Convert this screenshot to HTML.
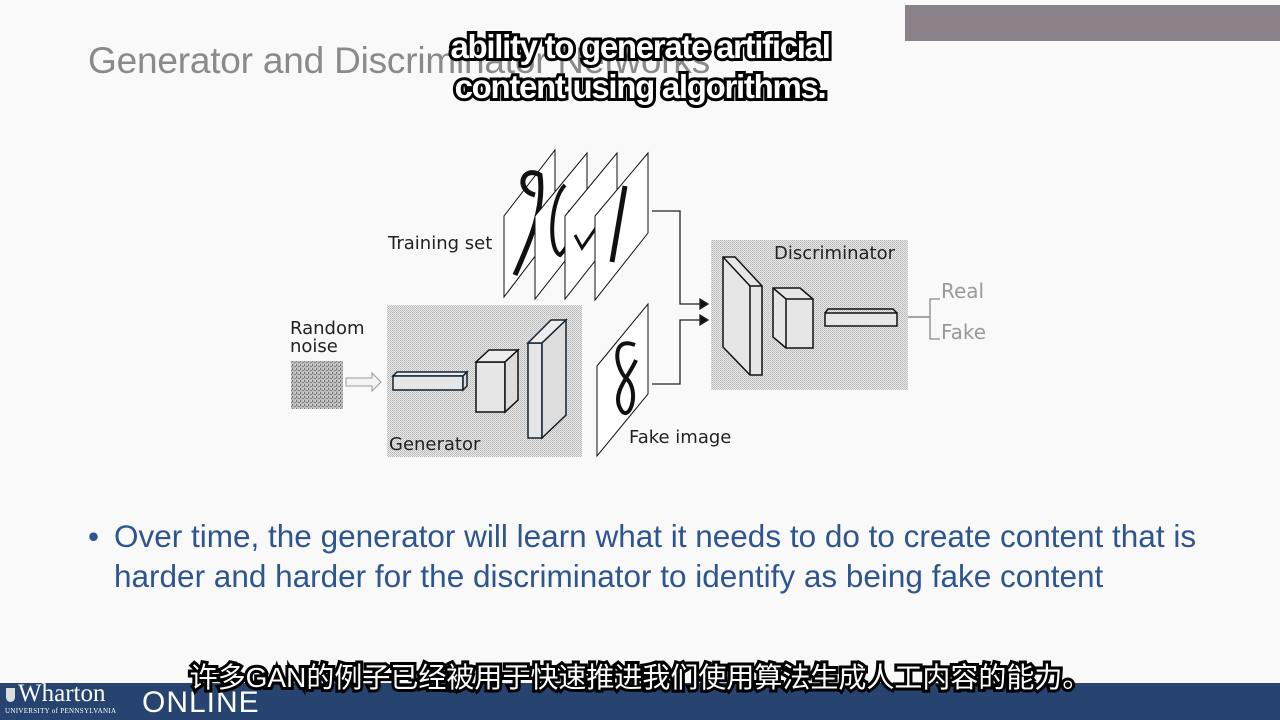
<!DOCTYPE html>
<html><head><meta charset="utf-8">
<style>
body{margin:0;width:1280px;height:720px;overflow:hidden;background:#f9f9f9;font-family:"Liberation Sans",sans-serif;position:relative}
.abs{position:absolute;margin:0}
.sub{font-family:"Liberation Sans","Noto Sans CJK SC",sans-serif;font-weight:bold;color:#fff;-webkit-text-stroke:6px #000;paint-order:stroke fill;white-space:nowrap;text-align:center}
</style></head><body>
<div class="abs" style="left:905px;top:5px;width:375px;height:36px;background:#8b8189"></div>
<div class="abs" style="left:88px;top:40px;font-size:37px;color:#8a8a8a;letter-spacing:-0.2px;white-space:nowrap">Generator and Discriminator Networks</div>

<svg class="abs" style="left:0;top:0" width="1280" height="500">
<defs>
<pattern id="dots" width="2" height="2" patternUnits="userSpaceOnUse"><rect width="2" height="2" fill="#e8e8e8"/><rect width="1" height="1" fill="#b8b8b8"/><rect x="1" y="1" width="1" height="1" fill="#c4c4c4"/></pattern>
<pattern id="noise" width="4" height="4" patternUnits="userSpaceOnUse"><rect width="4" height="4" fill="#bbb"/><rect width="1" height="2" fill="#777"/><rect x="2" y="2" width="2" height="1" fill="#888"/><rect x="3" y="0" width="1" height="1" fill="#ddd"/></pattern>
</defs>
<g>
<rect x="387" y="305" width="195" height="152" fill="url(#dots)"/>
<polygon points="393,376 463,376 467,372 397,372" fill="#eee" stroke="#123" stroke-width="1.5"/>
<rect x="393" y="376" width="70" height="14" fill="#e6e6e6" stroke="#123" stroke-width="1.5"/>
<polygon points="463,376 467,372 467,386 463,390" fill="#ddd" stroke="#123" stroke-width="1.5"/>
<rect x="476" y="362" width="29" height="50" fill="#e6e6e6" stroke="#111" stroke-width="1.5"/>
<polygon points="476,362 489,350 518,350 505,362" fill="#eee" stroke="#111" stroke-width="1.5"/>
<polygon points="505,362 518,350 518,400 505,412" fill="#ddd" stroke="#111" stroke-width="1.5"/>
<rect x="528" y="343" width="14" height="95" fill="#e6e6e6" stroke="#123" stroke-width="1.5"/>
<polygon points="528,343 551,320 566,320 542,343" fill="#eee" stroke="#123" stroke-width="1.5"/>
<polygon points="542,343 566,320 566,415 542,438" fill="#ddd" stroke="#123" stroke-width="1.5"/>
<text x="389" y="450" font-family="DejaVu Sans" font-size="18" fill="#222">Generator</text>
</g>
<g>
<rect x="711" y="240" width="197" height="150" fill="url(#dots)"/>
<polygon points="723,257 735,257 762,286 762,375 750,375 723,347" fill="#e6e6e6" stroke="#111" stroke-width="1.5"/>
<line x1="750" y1="286" x2="762" y2="286" stroke="#111" stroke-width="1.5"/><line x1="750" y1="286" x2="750" y2="375" stroke="#111" stroke-width="1.5"/><line x1="723" y1="257" x2="750" y2="286" stroke="#111" stroke-width="1.5"/>
<polygon points="773,288 800,288 813,299 813,348 786,348 773,337" fill="#e6e6e6" stroke="#111" stroke-width="1.5"/>
<polyline points="773,288 786,299 813,299" fill="none" stroke="#111" stroke-width="1.5"/><line x1="786" y1="299" x2="786" y2="348" stroke="#111" stroke-width="1.5"/>
<rect x="825" y="313" width="72" height="13" fill="#e6e6e6" stroke="#111" stroke-width="1.5"/>
<polyline points="825,313 828,309 893,309 897,313" fill="none" stroke="#111" stroke-width="1.5"/>
<text x="774" y="259" font-family="DejaVu Sans" font-size="18" fill="#222">Discriminator</text>
</g>
<g>
<text x="388" y="249" font-family="DejaVu Sans" font-size="18" fill="#222">Training set</text>
<polygon points="504,216 555,150 555,230 504,297" fill="#fff" stroke="#111"/>
<path d="M535,195 C515,190 522,165 540,175 C545,210 528,245 515,275" fill="none" stroke="#111" stroke-width="5"/>
<polygon points="535,216 587,153 587,233 535,299" fill="#fff" stroke="#111"/>
<path d="M565,185 C550,200 548,250 560,255 C570,245 575,230 570,210" fill="none" stroke="#111" stroke-width="4"/>
<polygon points="565,216 617,153 617,233 565,299" fill="#fff" stroke="#111"/>
<path d="M575,235 L582,248 L598,225" fill="none" stroke="#111" stroke-width="3"/>
<polygon points="595,216 648,153 648,233 595,300" fill="#fff" stroke="#111"/>
<path d="M625,186 L612,262" fill="none" stroke="#111" stroke-width="5"/>
</g>
<g>
<polygon points="597,366 648,304 648,394 597,456" fill="#fff" stroke="#111"/>
<path d="M635,345 C610,335 615,370 628,380 C640,395 628,425 620,408 C612,392 630,375 636,360" fill="none" stroke="#111" stroke-width="4"/>
<text x="629" y="443" font-family="DejaVu Sans" font-size="18" fill="#222">Fake image</text>
</g>
<g>
<text x="290" y="334" font-family="DejaVu Sans" font-size="18" fill="#222">Random</text>
<text x="290" y="352" font-family="DejaVu Sans" font-size="18" fill="#222">noise</text>
<rect x="291" y="361" width="52" height="48" fill="url(#noise)"/>
<polygon points="346,378 372,378 372,373 381,382 372,391 372,386 346,386" fill="#f4f4f4" stroke="#999"/>
</g>
<g fill="none" stroke="#222" stroke-width="1.3">
<polyline points="652,211 680,211 680,304 700,304"/>
<polyline points="652,384 680,384 680,320 700,320"/>
<polygon points="700,299 708,304 700,309" fill="#111"/>
<polygon points="700,315 708,320 700,325" fill="#111"/>
<line x1="908" y1="317" x2="930" y2="317" stroke="#888" stroke-width="1.5"/>
<polyline points="940,299 930,299 930,339 940,339" stroke="#888"/>
</g>
<text x="941" y="298" font-family="DejaVu Sans" font-size="20" fill="#999">Real</text>
<text x="941" y="339" font-family="DejaVu Sans" font-size="20" fill="#999">Fake</text>
</svg>

<div class="abs" style="left:88px;top:516px;font-size:31.5px;color:#2d5590;line-height:40px;width:1190px;white-space:nowrap">
<span style="position:absolute;left:0">•</span>
<div style="margin-left:26px">Over time, the generator will learn what it needs to do to create content that is<br>harder and harder for the discriminator to identify as being fake content</div>
</div>

<div class="abs sub" style="left:340px;width:600px;top:27px;font-size:33px;line-height:40px;letter-spacing:-1.3px">ability to generate artificial<br>content using algorithms.</div>

<div class="abs" style="left:0;top:683px;width:1280px;height:37px;background:#26446f">
<div style="position:absolute;left:6px;top:5px;width:9px;height:14px;background:#ddd;border-radius:0 0 5px 5px"></div>
<div style="position:absolute;left:18px;top:-3px;font-family:'Liberation Serif',serif;font-size:25px;color:#fff">Wharton</div>
<div style="position:absolute;left:5px;top:24px;font-family:'Liberation Serif',serif;font-size:7px;color:#fff;letter-spacing:0.3px">UNIVERSITY of PENNSYLVANIA</div>
<div style="position:absolute;left:142px;top:3px;font-size:30px;color:#fff;letter-spacing:1px">ONLINE</div>
</div>

<div class="abs sub" style="left:140px;width:1000px;top:661px;font-size:28px;line-height:34px;font-weight:normal">许多GAN的例子已经被用于快速推进我们使用算法生成人工内容的能力。</div>
</body></html>
